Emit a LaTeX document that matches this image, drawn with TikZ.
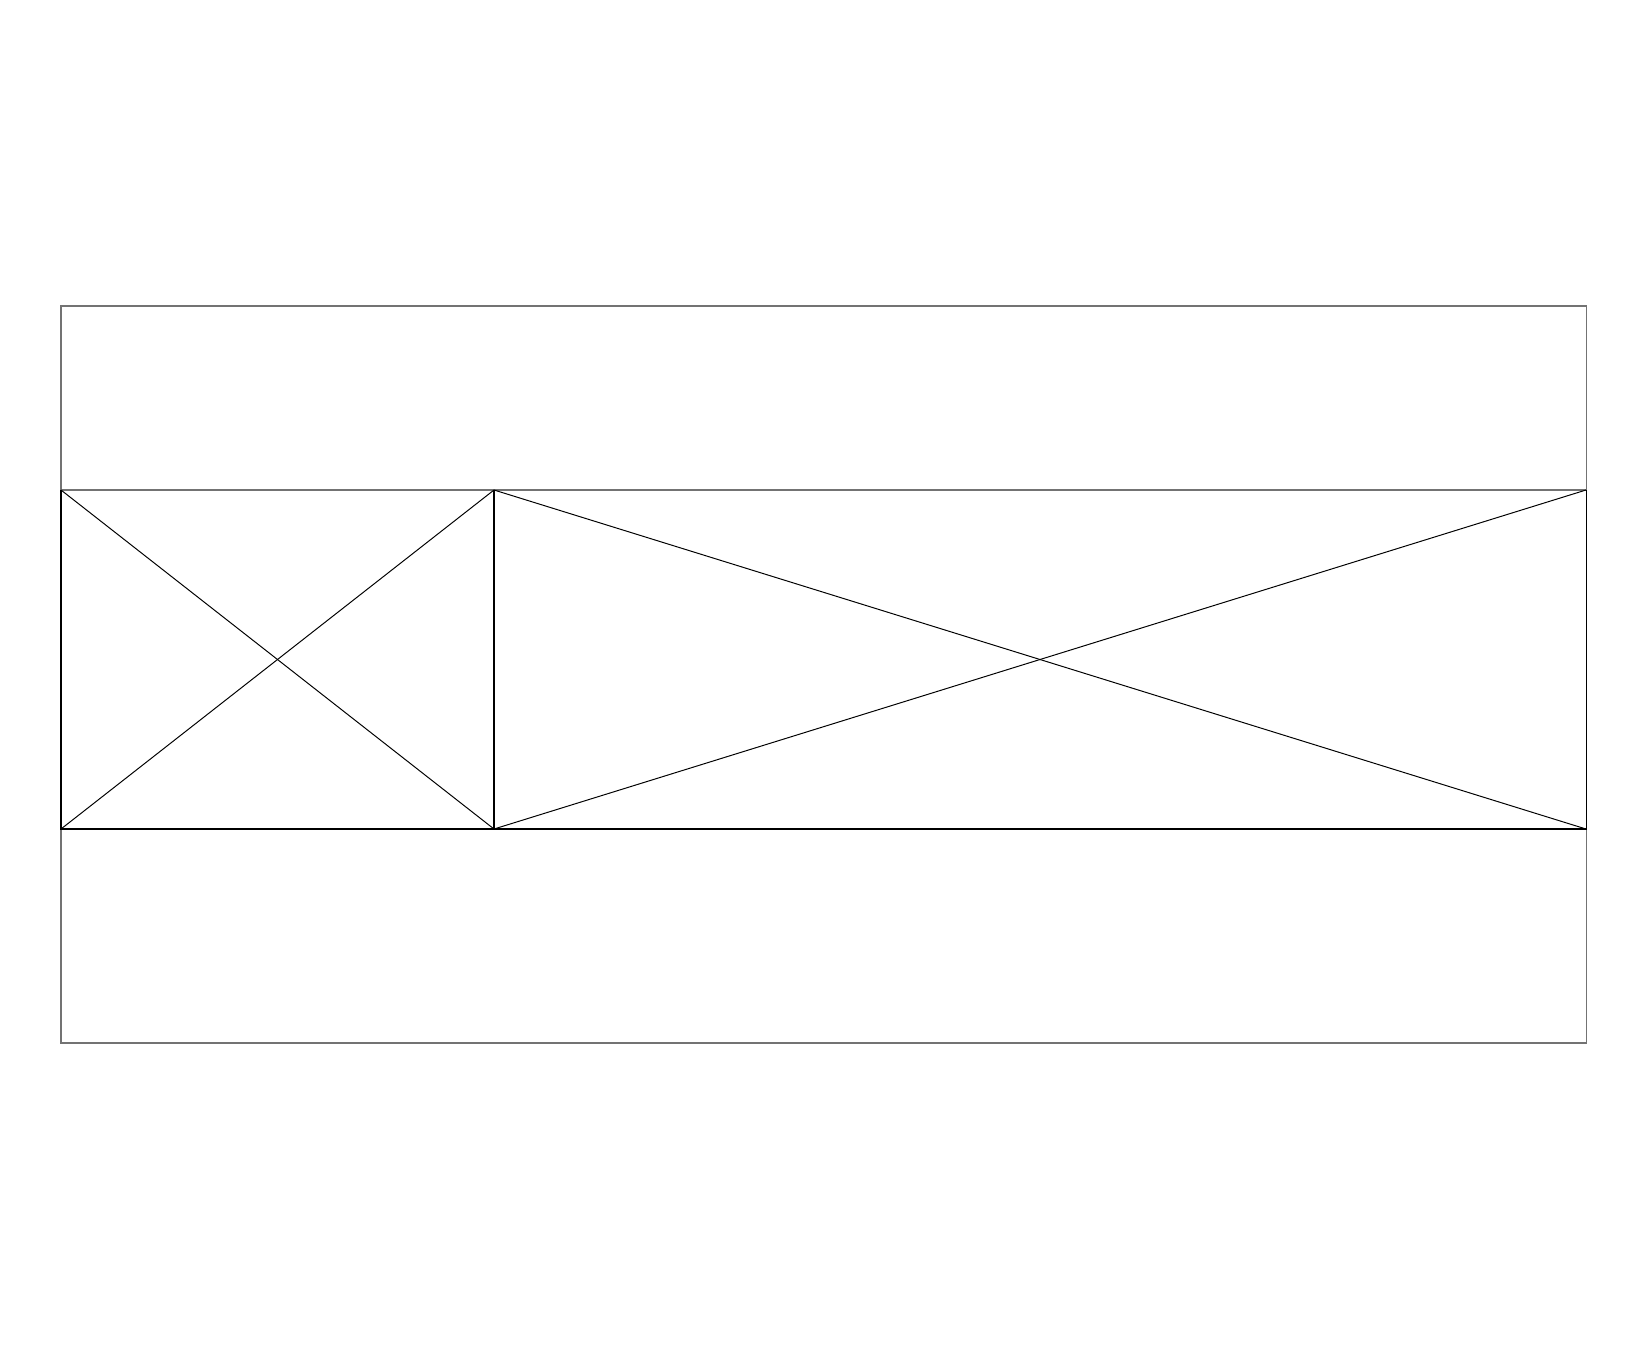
\documentclass[tikz,border=0pt]{standalone}
\usepackage{tikz}
\usetikzlibrary{calc}

\begin{document}
\begin{tikzpicture}[x=0.1mm,y=-0.1mm,line width=0.3pt]
  \tikzstyle{frame}=[draw=black!55]
  \tikzstyle{panel}=[draw=black]
  \tikzstyle{cross}=[draw=black,line width=0.28pt]

  \useasboundingbox[fill=white] (0,0) rectangle (1648,1350);

  % outer frame
  \coordinate (FrameNW) at (61,306);
  \coordinate (FrameSE) at (1586,1043);
  \draw[frame] (FrameNW) rectangle (FrameSE);

  % band corners
  \coordinate (BandNW)  at (61,490);
  \coordinate (BandSW)  at (61,829);
  \coordinate (SplitN)  at (494,490);
  \coordinate (SplitS)  at (494,829);
  \coordinate (BandNE)  at (1586,490);
  \coordinate (BandSE)  at (1586,829);

  \draw[frame] (BandNW) -- (BandNE);
  \draw[panel] (BandNW) -- (BandSW) -- (BandSE) -- (BandNE);
  \draw[panel] (SplitN) -- (SplitS);

  % left panel
  \draw[cross] (BandNW) -- (SplitS);
  \draw[cross] (BandSW) -- (SplitN);

  % right panel
  \draw[cross] (SplitN) -- (BandSE);
  \draw[cross] (SplitS) -- (BandNE);
\end{tikzpicture}
\end{document}
